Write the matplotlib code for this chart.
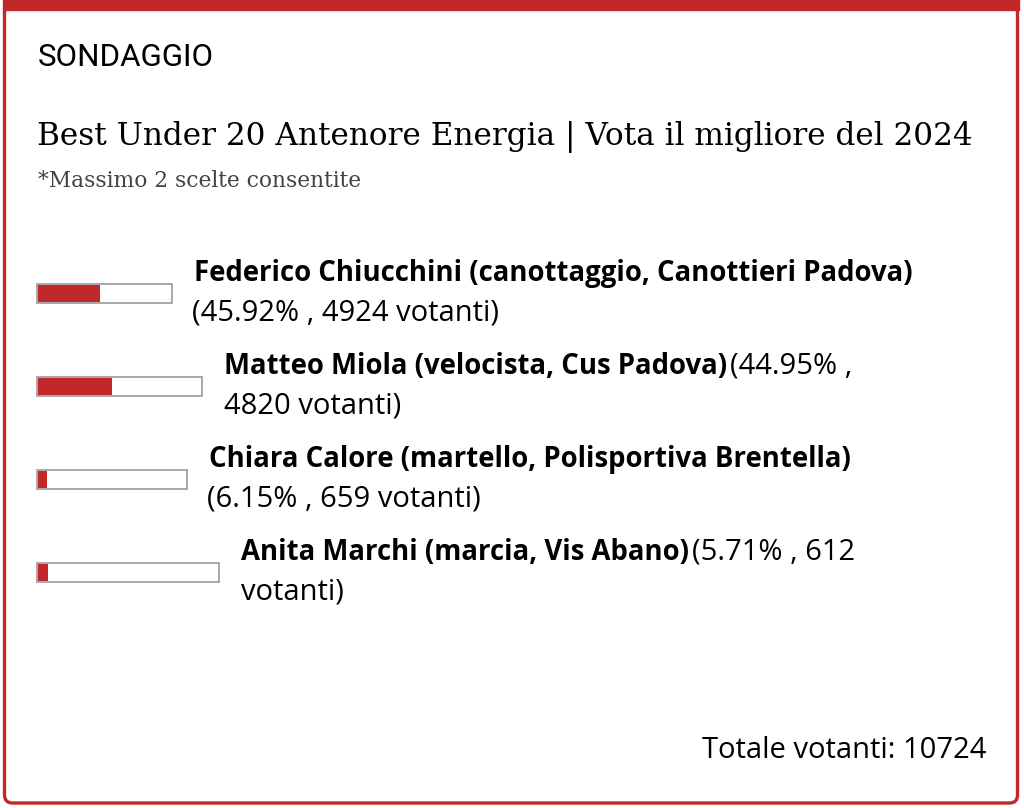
import matplotlib
matplotlib.use("Agg")
from matplotlib import pyplot as plt
from matplotlib.patches import Rectangle, FancyBboxPatch

# poll data
names = ['Federico Chiucchini (canottaggio, Canottieri Padova)',
         'Matteo Miola (velocista, Cus Padova)',
         'Chiara Calore (martello, Polisportiva Brentella)',
         'Anita Marchi (marcia, Vis Abano)']
pcts = [45.92, 44.95, 6.15, 5.71]
votes = [4924, 4820, 659, 612]
total = 10724

# layout (pixels)
track_w = [135, 165, 150, 182]
row_y = [293, 386, 479, 572]
wrap_words = [None, 2, None, 3]

RED = '#c0282a'
W, H = 1024, 808

fig = plt.figure(figsize=(W / 100, H / 100), dpi=100)
ax = fig.add_axes([0, 0, 1, 1])
ax.set_xlim(0, W)
ax.set_ylim(H, 0)
ax.axis('off')
fig.canvas.draw()
r = fig.canvas.get_renderer()
inv = ax.transData.inverted()


def xend(t):
    bb = t.get_window_extent(r)
    return inv.transform((bb.x1, 0))[0]


def fit(t, width):
    # rescale font so the text spans the given pixel width
    bb = t.get_window_extent(r)
    t.set_fontsize(t.get_fontsize() * width / bb.width)


# frame
ax.add_patch(Rectangle((3, 0), 1016, 10, color=RED, zorder=3))
ax.add_patch(FancyBboxPatch((4.5, 4), 1013, 799, boxstyle='round,pad=0,rounding_size=8',
                            fc='white', ec=RED, lw=2.4, zorder=2))

sans = 'Open Sans'
t = ax.text(38, 57, 'SONDAGGIO', fontsize=20, family='Roboto', va='center', zorder=4)
fit(t, 176)
t = ax.text(37, 137, 'Best Under 20 Antenore Energia | Vota il migliore del 2024',
            fontsize=21.5, family='DejaVu Serif', va='center', zorder=4)
fit(t, 936)
t = ax.text(38, 181, '*Massimo 2 scelte consentite', fontsize=14, family='DejaVu Serif',
            color='#444444', va='center', zorder=4)
fit(t, 324)

probe = ax.text(0, 0, names[0], fontsize=17, family=sans, weight='bold')
bold_fs = 17 * 718 / probe.get_window_extent(r).width
probe.remove()
probe = ax.text(0, 0, '(45.92% , 4924 votanti)', fontsize=17, family=sans)
reg_fs = 17 * 306 / probe.get_window_extent(r).width
probe.remove()

for name, p, v, tw, y, ww in zip(names, pcts, votes, track_w, row_y, wrap_words):
    x0 = 37
    ax.add_patch(Rectangle((x0, y - 9.5), tw, 19, fc='white', ec='#9a9a9a', lw=1.2, zorder=4))
    ax.add_patch(Rectangle((x0 + 1, y - 8.5), tw * p / 100, 17, fc=RED, ec='none', zorder=5))
    tx = x0 + tw + 22
    t = ax.text(tx, y - 20, name, fontsize=bold_fs, family=sans, weight='bold',
                va='center', zorder=4)
    stat = f'({p:.2f}% , {v} votanti)'
    if ww:
        words = stat.split(' ')
        ax.text(xend(t) + 3, y - 20, ' '.join(words[:ww]), fontsize=reg_fs, family=sans,
                va='center', zorder=4)
        ax.text(tx, y + 20, ' '.join(words[ww:]), fontsize=reg_fs, family=sans,
                va='center', zorder=4)
    else:
        ax.text(tx - 2, y + 20, stat, fontsize=reg_fs, family=sans, va='center', zorder=4)

ax.text(986, 751, f'Totale votanti: {total}', fontsize=reg_fs, family=sans,
        ha='right', va='center', zorder=4)

fig.savefig('out.png', dpi=100)
